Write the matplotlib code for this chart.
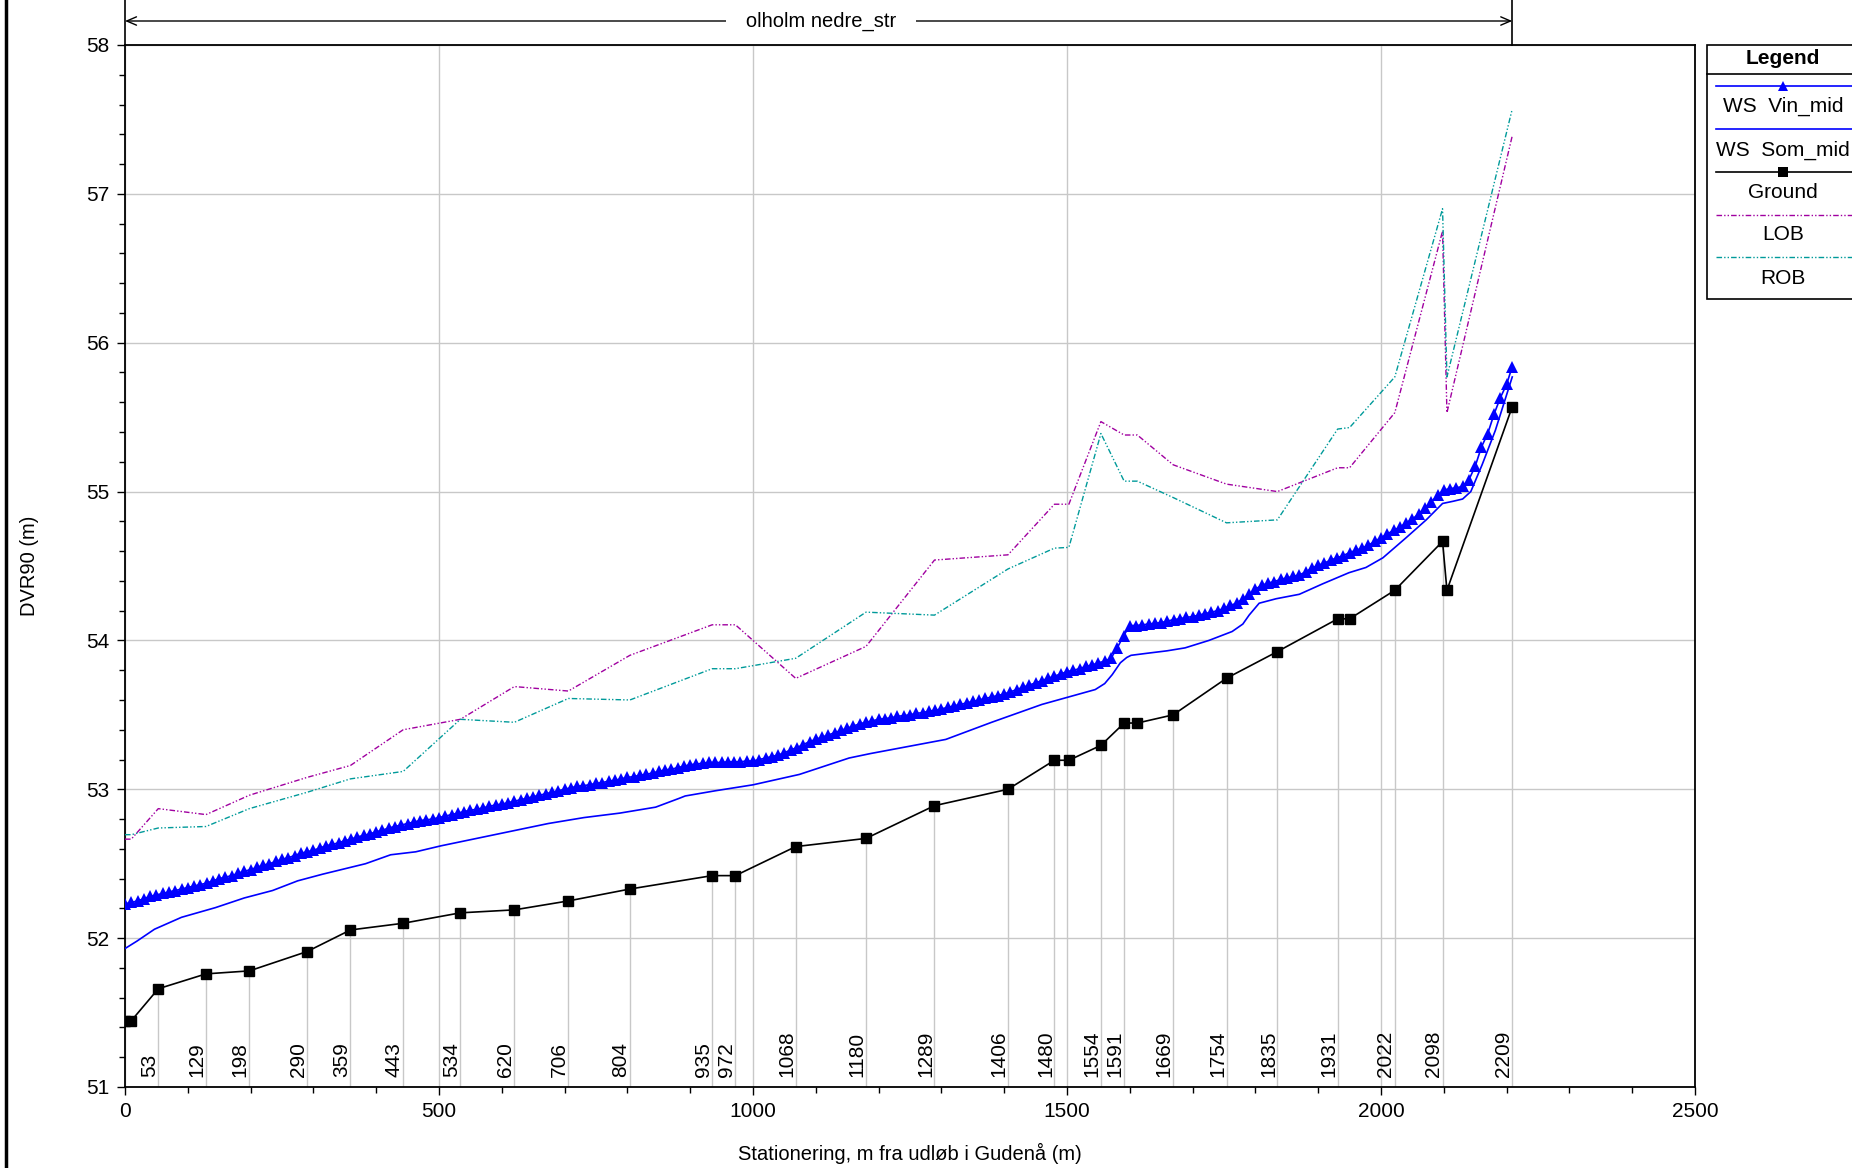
import matplotlib
matplotlib.use('Agg')
import matplotlib.pyplot as plt
from matplotlib.lines import Line2D
from matplotlib.patches import Rectangle
import matplotlib.transforms as mtransforms
from matplotlib.ticker import MultipleLocator

plt.rcParams['font.family'] = ['Liberation Sans', 'DejaVu Sans']

# ---------------- data ----------------
ground_x = [0, 10, 53, 129, 198, 290, 359, 443, 534, 620, 706, 804, 935, 972, 1068, 1180,
            1289, 1406, 1480, 1503, 1554, 1591, 1612, 1669, 1754, 1835, 1931, 1950, 2022,
            2098, 2105, 2209]
ground_y = [51.445, 51.445, 51.66, 51.76, 51.78, 51.91, 52.055, 52.10, 52.17, 52.19, 52.25,
            52.33, 52.42, 52.42, 52.615, 52.67, 52.89, 53.00, 53.195, 53.195, 53.295, 53.445,
            53.445, 53.50, 53.746, 53.925, 54.145, 54.145, 54.337, 54.665, 54.337, 55.57]

lob_y = [52.665, 52.665, 52.87, 52.83, 52.96, 53.08, 53.16, 53.40, 53.47, 53.69, 53.66,
         53.90, 54.105, 54.105, 53.745, 53.96, 54.54, 54.575, 54.915, 54.915, 55.47, 55.38,
         55.38, 55.18, 55.05, 55.00, 55.16, 55.16, 55.53, 56.75, 55.53, 57.39]
rob_y = [52.695, 52.695, 52.74, 52.75, 52.87, 52.98, 53.07, 53.12, 53.47, 53.45, 53.61,
         53.60, 53.81, 53.81, 53.88, 54.19, 54.17, 54.48, 54.62, 54.625, 55.39, 55.07,
         55.07, 54.96, 54.79, 54.81, 55.42, 55.43, 55.77, 56.90, 55.77, 57.57]

station_labels = [53, 129, 198, 290, 359, 443, 534, 620, 706, 804, 935, 972, 1068, 1180,
                  1289, 1406, 1480, 1554, 1591, 1669, 1754, 1835, 1931, 2022, 2098, 2209]

vin_x = [0, 10, 20, 30, 40, 50, 60, 70, 80, 90, 100, 110, 120, 130, 140, 150, 160, 170, 180,
         190, 200, 210, 220, 230, 240, 250, 260, 270, 280, 290, 300, 310, 320, 330, 340, 350,
         360, 370, 380, 390, 400, 410, 420, 430, 440, 450, 460, 470, 480, 490, 500, 510, 520,
         530, 540, 550, 560, 570, 580, 590, 600, 610, 620, 630, 640, 650, 660, 670, 680, 690,
         700, 710, 720, 730, 740, 750, 760, 770, 780, 790, 800, 810, 820, 830, 840, 850, 860,
         870, 880, 890, 900, 910, 920, 930, 940, 950, 960, 970, 980, 990, 1000, 1010, 1020,
         1030, 1040, 1050, 1060, 1070, 1080, 1090, 1100, 1110, 1120, 1130, 1140, 1150, 1160,
         1170, 1180, 1190, 1200, 1210, 1220, 1230, 1240, 1250, 1260, 1270, 1280, 1290, 1300,
         1310, 1320, 1330, 1340, 1350, 1360, 1370, 1380, 1390, 1400, 1410, 1420, 1430, 1440,
         1450, 1460, 1470, 1480, 1490, 1500, 1510, 1520, 1530, 1540, 1550, 1560, 1570, 1580,
         1590, 1600, 1610, 1620, 1630, 1640, 1650, 1660, 1670, 1680, 1690, 1700, 1710, 1720,
         1730, 1740, 1750, 1760, 1770, 1780, 1790, 1800, 1810, 1820, 1830, 1840, 1850, 1860,
         1870, 1880, 1890, 1900, 1910, 1920, 1930, 1940, 1950, 1960, 1970, 1980, 1990, 2000,
         2010, 2020, 2030, 2040, 2050, 2060, 2070, 2080, 2090, 2100, 2110, 2120, 2130, 2140,
         2150, 2160, 2170, 2180, 2190, 2200, 2209]
vin_y = [52.23, 52.24, 52.25, 52.265, 52.28, 52.29, 52.30, 52.31, 52.32, 52.33, 52.34, 52.35,
         52.36, 52.37, 52.385, 52.40, 52.41, 52.42, 52.435, 52.45, 52.46, 52.475, 52.49, 52.50,
         52.515, 52.53, 52.54, 52.555, 52.57, 52.58, 52.59, 52.605, 52.62, 52.63, 52.64, 52.655,
         52.665, 52.68, 52.69, 52.70, 52.715, 52.725, 52.74, 52.75, 52.76, 52.77, 52.78, 52.79,
         52.795, 52.80, 52.81, 52.82, 52.83, 52.84, 52.85, 52.86, 52.865, 52.875, 52.885, 52.895,
         52.90, 52.91, 52.92, 52.93, 52.94, 52.95, 52.96, 52.97, 52.98, 52.99, 53.00, 53.01,
         53.02, 53.025, 53.03, 53.04, 53.045, 53.055, 53.06, 53.07, 53.08, 53.085, 53.095, 53.10,
         53.11, 53.12, 53.13, 53.135, 53.145, 53.155, 53.165, 53.17, 53.175, 53.18, 53.18, 53.18,
         53.185, 53.185, 53.185, 53.19, 53.19, 53.20, 53.21, 53.22, 53.23, 53.245, 53.265, 53.28,
         53.30, 53.32, 53.335, 53.35, 53.365, 53.38, 53.395, 53.41, 53.425, 53.44, 53.45, 53.46,
         53.47, 53.475, 53.48, 53.49, 53.495, 53.50, 53.51, 53.515, 53.525, 53.53, 53.54, 53.55,
         53.56, 53.57, 53.58, 53.59, 53.60, 53.61, 53.62, 53.63, 53.64, 53.655, 53.67, 53.685,
         53.70, 53.715, 53.73, 53.745, 53.76, 53.775, 53.79, 53.80, 53.81, 53.825, 53.835, 53.85,
         53.86, 53.88, 53.95, 54.03, 54.10, 54.10, 54.105, 54.11, 54.115, 54.12, 54.13, 54.14,
         54.145, 54.155, 54.16, 54.17, 54.18, 54.19, 54.20, 54.215, 54.235, 54.25, 54.28, 54.31,
         54.345, 54.37, 54.385, 54.395, 54.41, 54.42, 54.43, 54.44, 54.46, 54.485, 54.505, 54.52,
         54.54, 54.555, 54.57, 54.59, 54.605, 54.62, 54.64, 54.665, 54.69, 54.715, 54.74, 54.76,
         54.79, 54.815, 54.85, 54.89, 54.93, 54.975, 55.01, 55.02, 55.025, 55.035, 55.08, 55.17,
         55.30, 55.39, 55.52, 55.63, 55.72, 55.84]

som_x = [0, 19, 47, 90, 144, 190, 235, 275, 315, 383, 423, 463, 503, 560, 617, 674, 731, 788,
         845, 883, 892, 940, 1000, 1074, 1153, 1187, 1307, 1380, 1460, 1545, 1560, 1572, 1585,
         1595, 1602, 1630, 1659, 1688, 1726, 1763, 1780, 1790, 1806, 1833, 1870, 1907, 1949,
         1976, 2003, 2040, 2072, 2098, 2115, 2130, 2143, 2161, 2182, 2209]
som_y = [51.93, 51.98, 52.06, 52.14, 52.205, 52.27, 52.32, 52.385, 52.43, 52.50, 52.56, 52.58,
         52.62, 52.67, 52.72, 52.77, 52.81, 52.84, 52.88, 52.94, 52.955, 52.99, 53.03, 53.10,
         53.21, 53.24, 53.335, 53.45, 53.57, 53.67, 53.71, 53.77, 53.85, 53.885, 53.90, 53.915,
         53.93, 53.95, 54.00, 54.06, 54.11, 54.17, 54.25, 54.28, 54.31, 54.38, 54.455, 54.49,
         54.555, 54.69, 54.81, 54.92, 54.935, 54.95, 55.00, 55.18, 55.41, 55.77]

x_ticks = [0, 500, 1000, 1500, 2000, 2500]
y_ticks = [51, 52, 53, 54, 55, 56, 57, 58]
reach_name = "olholm nedre_str"
legend_labels = ["WS  Vin_mid", "WS  Som_mid", "Ground", "LOB", "ROB"]

# ---------------- styles ----------------
BLUE = '#0000ff'
LOB_C = '#a000a0'
ROB_C = '#009a9a'
GRID = '#c8c8c8'
DASH = (0, (4, 1.5, 1, 1.5, 1, 1.5))

W, H = 1852, 1168
fig = plt.figure(figsize=(W / 100, H / 100), dpi=100)
L, R, T, B = 125, 1695, 45, 1087
ax = fig.add_axes([L / W, 1 - B / H, (R - L) / W, (B - T) / H])
ax.set_xlim(0, 2500)
ax.set_ylim(51, 58)

ax.set_xticks(x_ticks)
ax.set_yticks(y_ticks)
ax.xaxis.set_minor_locator(MultipleLocator(100))
ax.yaxis.set_minor_locator(MultipleLocator(0.2))
ax.tick_params(which='major', direction='out', length=6, width=1, labelsize=15, pad=5)
ax.tick_params(which='minor', direction='out', length=4, width=1)
ax.grid(True, which='major', color=GRID, lw=1, zorder=0)
ax.set_axisbelow(True)
for sp in ax.spines.values():
    sp.set_linewidth(1.3)

ax.set_xlabel("Stationering, m fra udløb i Gudenå (m)", fontsize=14.5, va='center')
ax.xaxis.set_label_coords(0.5, (B - 1153) / (B - T))
ax.set_ylabel("DVR90 (m)", fontsize=14.5, va='center')
ax.yaxis.set_label_coords((30 - L) / (R - L), 0.5)

# station vertical lines and labels
gmap = dict(zip(ground_x, ground_y))
ax.vlines(station_labels, 51, [gmap[s] for s in station_labels], color=GRID, lw=1, zorder=1)
trans_lab = mtransforms.offset_copy(ax.transData, fig=fig, x=-9, y=10, units='dots')
for s in station_labels:
    ax.text(s, 51, str(s), rotation=90, ha='center', va='bottom', fontsize=15,
            transform=trans_lab, zorder=2)

ax.plot(ground_x, lob_y, color=LOB_C, lw=1.0, linestyle=DASH, zorder=3)
ax.plot(ground_x, rob_y, color=ROB_C, lw=1.0, linestyle=DASH, zorder=3)
ax.plot(som_x, som_y, color=BLUE, lw=1.2, zorder=4)
ax.plot(vin_x, vin_y, color=BLUE, lw=1.2, marker='^', ms=8, mew=0, zorder=5)
ax.plot(ground_x, ground_y, color='black', lw=1.2, marker='s', ms=7, zorder=6)

# ---------------- top reach annotation ----------------
blend = mtransforms.blended_transform_factory(ax.transData, fig.transFigure)
y_arrow = 1 - 21 / H
ax.annotate('', xy=(0, y_arrow), xytext=(2209, y_arrow), xycoords=blend, textcoords=blend,
            arrowprops=dict(arrowstyle='<->,head_length=0.7,head_width=0.3', lw=1.0,
                            color='black', shrinkA=0, shrinkB=0),
            annotation_clip=False)
ax.text(1108, y_arrow, "   " + reach_name + "   ", transform=blend, ha='center', va='center',
        fontsize=14.5, bbox=dict(facecolor='white', edgecolor='none', pad=2), clip_on=False)
for xv in (0, 2209):
    ax.add_line(Line2D([xv, xv], [1 - T / H, 1.0], transform=blend, color='black', lw=1.2,
                       clip_on=False))

# far-left frame line
fig.add_artist(Line2D([6 / W, 6 / W], [0, 1], transform=fig.transFigure, color='black', lw=2.5))

# ---------------- legend (drawn manually) ----------------
px = mtransforms.Affine2D().scale(1 / W, -1 / H).translate(0, 1) + fig.transFigure
fig.add_artist(Rectangle((1707, 45), 200, 254, transform=px, facecolor='white',
                         edgecolor='black', lw=1.2))
fig.text(1783, 59, "Legend", transform=px, ha='center', va='center', fontsize=15,
         fontweight='bold')
fig.add_artist(Line2D([1707, 1860], [74, 74], transform=px, color='black', lw=1.2))
cx = 1783
sample_y = [86, 129, 172, 215, 257]
text_y = [106, 150, 193, 235, 278]
styles = [dict(color=BLUE, lw=1.2), dict(color=BLUE, lw=1.2), dict(color='black', lw=1.2),
          dict(color=LOB_C, lw=1.0, linestyle=DASH), dict(color=ROB_C, lw=1.0, linestyle=DASH)]
markers = ['^', None, 's', None, None]
for lab, sy, ty, st, mk in zip(legend_labels, sample_y, text_y, styles, markers):
    fig.add_artist(Line2D([1716, 1860], [sy, sy], transform=px, **st))
    if mk:
        fig.add_artist(Line2D([cx], [sy], transform=px, marker=mk, ms=7, mew=0,
                              color=st['color'], linestyle='none'))
    fig.text(cx, ty, lab, transform=px, ha='center', va='center', fontsize=15)

fig.savefig('out.png', dpi=100)
